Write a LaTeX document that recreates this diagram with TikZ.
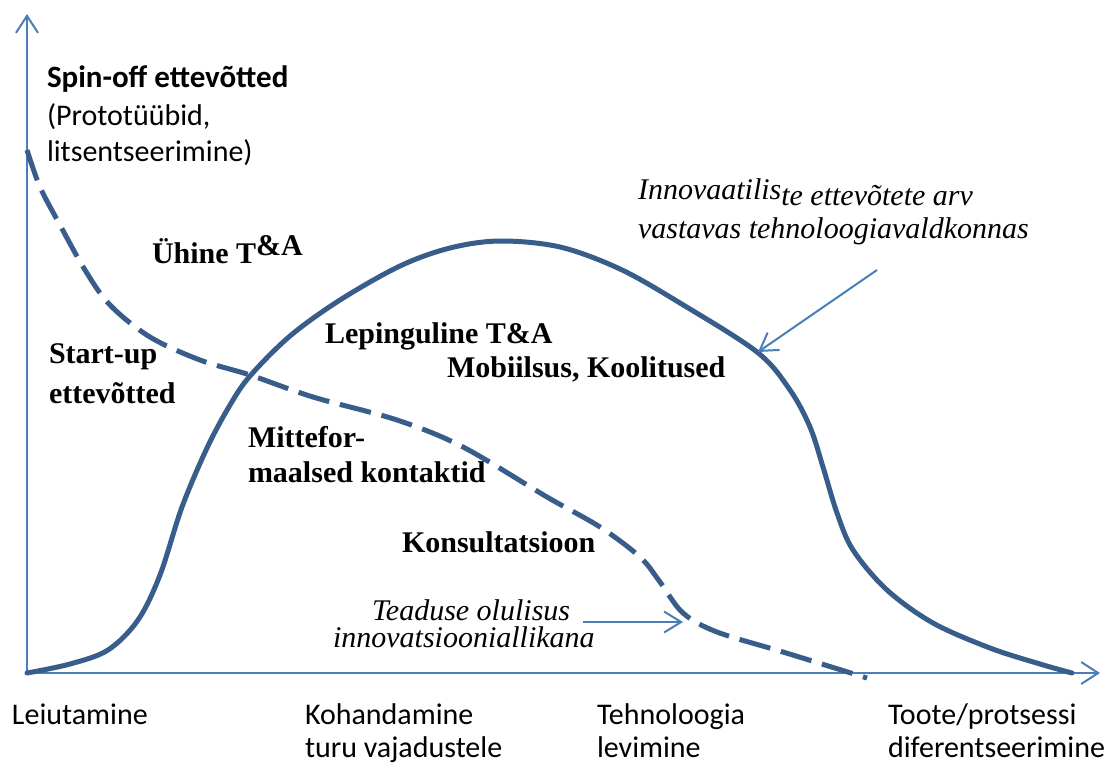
\documentclass[tikz,border=0pt]{standalone}
\usepackage{fontspec}
\setmainfont{Liberation Serif}
\newfontfamily\labelsans{Carlito}
\usetikzlibrary{arrows.meta}

\definecolor{axisblue}{RGB}{74,126,187}
\definecolor{curveblue}{RGB}{56,93,138}

\begin{document}
\begin{tikzpicture}[x=1pt,y=-1pt,
  txt/.style={anchor=base west, inner sep=0pt, outer sep=0pt, text=black},
  serifbold/.style={txt, font=\fontsize{30}{36}\selectfont\bfseries},
  serifit/.style={txt, font=\fontsize{30}{36}\selectfont\itshape},
  sanslbl/.style={txt, font=\fontsize{30}{36}\selectfont\labelsans},
  sansbold/.style={txt, font=\fontsize{31}{36}\selectfont\labelsans\bfseries},
  axisline/.style={draw=axisblue, line width=2pt,
    -{Straight Barb[length=17pt,width=22pt]}},
  pointer/.style={draw=axisblue, line width=2pt,
    -{Straight Barb[length=17pt,width=21pt]}},
  firmcurve/.style={draw=curveblue, line width=5pt, line cap=round},
  sciencecurve/.style={draw=curveblue, line width=5pt, dash pattern=on 32pt off 11pt}
]
\useasboundingbox (0,0) rectangle (1115,763);

% axes
\coordinate (O) at (27,673);
\coordinate (ytip) at (27,14);
\coordinate (xtip) at (1100,673);
\draw[axisline] (O) -- (ytip);
\draw[axisline] (O) -- (xtip);

% number of innovative firms
\draw[firmcurve] plot[smooth, tension=0.55] coordinates {
  (27,673) (70,664) (108,650) (138,620) (160,575) (182,507)
  (207,448) (230,405) (250,376) (290,336) (340,300) (400,266)
  (450,248) (500,241) (560,247) (620,269) (680,303) (757,352)
  (790,390) (810,427) (823,467) (837,513) (853,550) (887,590)
  (933,623) (990,648) (1040,664) (1072,673)};

% importance of science as a source of innovation
\draw[sciencecurve] plot[smooth, tension=0.55] coordinates {
  (27,150) (40,187) (60,225) (85,270) (110,305) (150,337)
  (200,360) (250,375) (313,397) (397,420) (463,447) (547,497)
  (600,527) (640,557) (660,582) (683,613) (717,632) (783,652)
  (867,678)};

% pointers to the curves
\coordinate (firmsFrom) at (877,270);
\coordinate (firmsTo) at (758,352);
\draw[pointer] (firmsFrom) -- (firmsTo);
\coordinate (sciFrom) at (583,622);
\coordinate (sciTo) at (683,622);
\draw[pointer] (sciFrom) -- (sciTo);

% labels on the vertical axis side
\node[sansbold] (spin) at (47,87) {Spin-off ettevõtted};
\node[sanslbl] (spin2) at (47,125) {(Prototüübid,};
\node[sanslbl] (spin3) at (47,161) {litsentseerimine)};

\node[serifbold] (joint) at (152,263) {Ühine T\raisebox{8pt}{\&A}};
\node[serifbold] (start1) at (49,363) {Start-up};
\node[serifbold] (start2) at (49,403) {ettevõtted};
\node[serifbold] (contract) at (325,343) {Lepinguline T\&A};
\node[serifbold] (mobility) at (447,377) {Mobiilsus, Koolitused};
\node[serifbold] (informal1) at (248,447) {Mittefor-};
\node[serifbold] (informal2) at (248,482) {maalsed kontaktid};
\node[serifbold] (consult) at (402,552) {Konsultatsioon};

\node[serifit] (firms1) at (638,199) {Innovaatilis\raisebox{-6pt}{te ettevõtete arv}};
\node[serifit] (firms2) at (638,238) {vastavas tehnoloogiavaldkonnas};
\node[serifit] (sci1) at (372,620) {Teaduse olulisus};
\node[serifit] (sci2) at (333,647) {innovatsiooniallikana};

% stages along the horizontal axis
\node[sanslbl] (stage1) at (12,724) {Leiutamine};
\node[sanslbl] (stage2a) at (305,724) {Kohandamine};
\node[sanslbl] (stage2b) at (305,757) {turu vajadustele};
\node[sanslbl] (stage3a) at (597,724) {Tehnoloogia};
\node[sanslbl] (stage3b) at (597,757) {levimine};
\node[sanslbl] (stage4a) at (888,724) {Toote/protsessi};
\node[sanslbl] (stage4b) at (888,757) {diferentseerimine};
\end{tikzpicture}
\end{document}
